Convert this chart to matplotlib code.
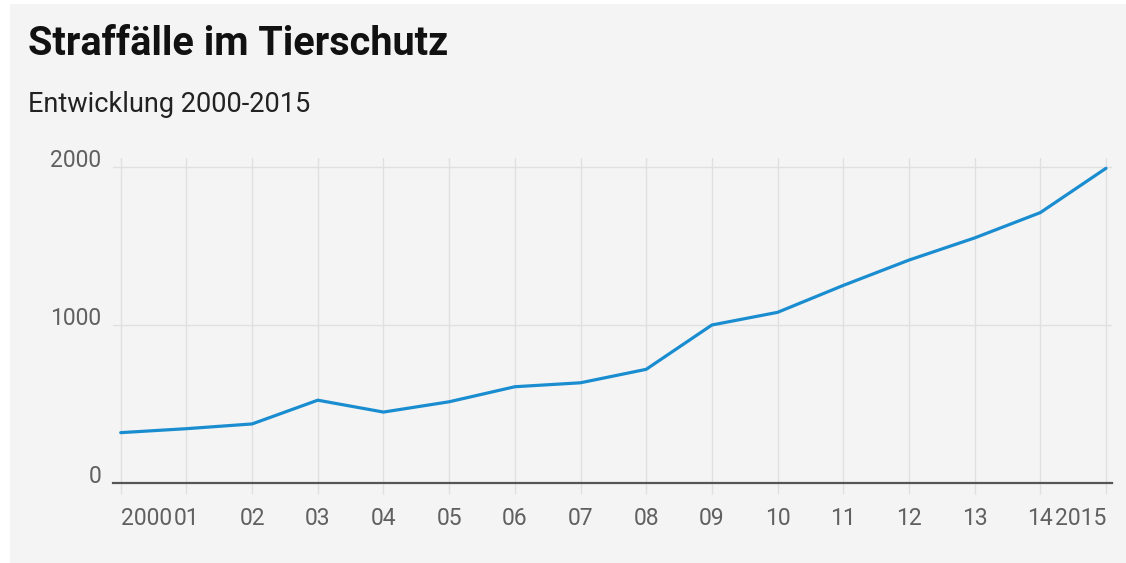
import matplotlib
matplotlib.use('Agg')
import matplotlib.pyplot as plt
from matplotlib.patches import Rectangle

# ── Data ──
years = list(range(2000, 2016))
cases = [320, 345, 375, 525, 450, 515, 610, 635, 720, 1000, 1080, 1250, 1410, 1550, 1710, 1990]
year_labels = ['2000', '01', '02', '03', '04', '05', '06', '07', '08', '09',
               '10', '11', '12', '13', '14', '2015']
y_ticks = [0, 1000, 2000]

title = 'Straffälle im Tierschutz'
subtitle = 'Entwicklung 2000-2015'

plt.rcParams['font.family'] = ['Roboto', 'DejaVu Sans']

W, H = 1126, 563
fig = plt.figure(figsize=(W / 100, H / 100), dpi=100, facecolor='white')

# light grey card behind everything
fig.patches.append(Rectangle((10 / W, 0), 1, 1 - 4 / H, transform=fig.transFigure,
                             facecolor='#f4f4f4', edgecolor='none', zorder=-10))

ax = fig.add_axes([112.7 / W, 1 - 483.3 / H, 999 / W, (483.3 - 158) / H])
ax.set_facecolor('none')

ax.plot(years, cases, color='#1a8dd0', linewidth=2.3, solid_joinstyle='round',
        solid_capstyle='round', zorder=3)

ax.set_xlim(1999.878, 2015.087)
ax.set_ylim(0, 2055)

ax.set_xticks(years)
ax.set_xticklabels(year_labels)
ax.set_yticks(y_ticks)
ax.set_yticklabels([str(v) for v in y_ticks])

ax.grid(True, color='#e0e0e0', linewidth=1.0, zorder=0)
for s in ['top', 'right', 'left']:
    ax.spines[s].set_visible(False)
ax.spines['bottom'].set_color('#555555')
ax.spines['bottom'].set_linewidth(1.6)
ax.spines['bottom'].set_zorder(4)

ax.tick_params(axis='x', length=8, width=1.0, color='#e0e0e0', pad=9,
               labelsize=16.5, labelcolor='#606060')
ax.tick_params(axis='y', length=0, pad=8, labelsize=16.5, labelcolor='#606060')
for lbl in ax.get_yticklabels():
    lbl.set_verticalalignment('baseline')

# first and last year labels hug their ticks like the original
xlbls = ax.get_xticklabels()
xlbls[0].set_horizontalalignment('left')
xlbls[-1].set_horizontalalignment('right')

fig.text(28 / W, 1 - 55 / H, title, fontsize=28.5, fontweight='bold',
         color='#111111', ha='left', va='baseline')
fig.text(28 / W, 1 - 112 / H, subtitle, fontsize=19.5, color='#222222',
         ha='left', va='baseline')

fig.savefig('out.png', dpi=100, facecolor=fig.get_facecolor())
plt.close(fig)
